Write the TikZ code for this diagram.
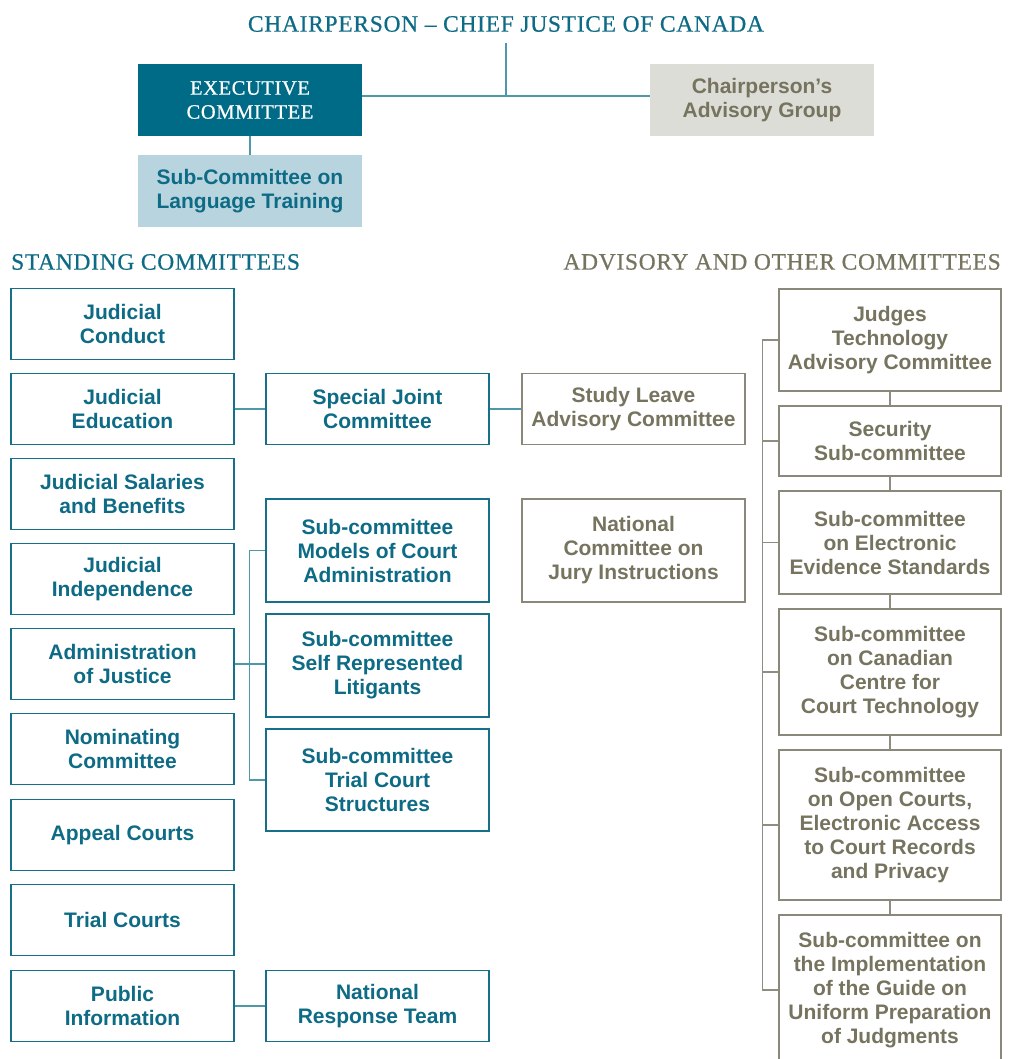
\documentclass[tikz,border=0pt]{standalone}
\usepackage{fontspec}
\newfontfamily\sansface{Liberation Sans}
\newfontfamily\capsface[LetterSpace=3,FakeBold=0.6]{Liberation Serif}

\definecolor{tealdark}{HTML}{006B86}
\definecolor{tealtext}{HTML}{0E6B85}
\definecolor{tealline}{HTML}{16708A}
\definecolor{teallink}{HTML}{4F98AA}
\definecolor{lightblue}{HTML}{B8D5DF}
\definecolor{grayfill}{HTML}{DDDDD7}
\definecolor{graytext}{HTML}{76745F}
\definecolor{grayline}{HTML}{8A887A}
\definecolor{graylink}{HTML}{8F8D80}

\newcommand\boxtext{\sansface\bfseries\fontsize{21}{24}\selectfont}
\newcommand\headcaps{\capsface\fontsize{23.5}{26}\selectfont}
\newcommand\sectcaps{\capsface\fontsize{23.5}{26}\selectfont}
\newcommand\execcaps{\capsface\fontsize{20.5}{24}\selectfont}

\begin{document}
\begin{tikzpicture}[x=1pt,y=-1pt,
  box/.style={align=center, inner sep=0pt, minimum width=223pt, font=\boxtext},
  tbox/.style={box, draw=tealline, line width=1.3pt, fill=white, text=tealtext},
  gbox/.style={box, draw=grayline, line width=1.3pt, fill=white, text=graytext},
  tlink/.style={draw=teallink, line width=1.6pt},
  glink/.style={draw=graylink, line width=1.6pt},
  title/.style={inner sep=0pt}]
\useasboundingbox (0,0) rectangle (1010,1059);

% ---- top level ----
\node[title, font=\headcaps, text=tealtext] (chair) at (506,24)
  {CHAIRPERSON – CHIEF JUSTICE OF CANADA};
\node[box, fill=tealdark, text=white, font=\execcaps, minimum width=224pt,
  minimum height=72pt] (exec) at (250,100) {EXECUTIVE\\COMMITTEE};
\node[box, fill=grayfill, text=graytext, minimum width=224pt,
  minimum height=72pt] (cag) at (762,100) {Chairperson’s\\Advisory Group};
\node[box, fill=lightblue, text=tealtext, minimum width=224pt,
  minimum height=72pt] (lang) at (250,191) {Sub-Committee on\\Language Training};

\coordinate (chairfoot) at (506,43);
\coordinate (tee) at (506,96);
\draw[tlink] (chairfoot) -- (tee);
\draw[tlink] (exec.east |- tee) -- (cag.west |- tee);
\draw[tlink] (exec.south) -- (lang.north);

% ---- section titles ----
\node[title, font=\sectcaps, text=tealtext, anchor=west] (stand) at (11,262)
  {STANDING COMMITTEES};
\node[title, font=\sectcaps, text=graytext, anchor=east] (other) at (1001,262)
  {ADVISORY AND OTHER COMMITTEES};

% ---- standing committees ----
\node[tbox, minimum height=71pt] (jcond)  at (122.5,324) {Judicial\\Conduct};
\node[tbox, minimum height=71pt] (jedu)   at (122.5,409) {Judicial\\Education};
\node[tbox, minimum height=71pt] (jsal)   at (122.5,494) {Judicial Salaries\\and Benefits};
\node[tbox, minimum height=71pt] (jind)   at (122.5,579) {Judicial\\Independence};
\node[tbox, minimum height=71pt] (admin)  at (122.5,664) {Administration\\of Justice};
\node[tbox, minimum height=71pt] (nomin)  at (122.5,749) {Nominating\\Committee};
\node[tbox, minimum height=71pt] (appeal) at (122.5,835) {Appeal Courts};
\node[tbox, minimum height=71pt] (trialc) at (122.5,920) {Trial Courts};
\node[tbox, minimum height=71pt] (pinfo)  at (122.5,1006) {Public\\Information};

\node[tbox, minimum height=71pt] (sjc)     at (377.5,409) {Special Joint\\Committee};
\node[tbox, minimum height=103pt] (models) at (377.5,550.5) {Sub-committee\\Models of Court\\Administration};
\node[tbox, minimum height=103pt] (selfrep) at (377.5,665.5) {Sub-committee\\Self Represented\\Litigants};
\node[tbox, minimum height=102pt] (trials) at (377.5,780) {Sub-committee\\Trial Court\\Structures};
\node[tbox, minimum height=71pt] (nrt)     at (377.5,1006) {National\\Response Team};

% ---- advisory committees, middle column ----
\node[gbox, minimum height=71pt] (study) at (633.5,409) {Study Leave\\Advisory Committee};
\node[gbox, minimum height=103pt] (jury) at (633.5,550.5) {National\\Committee on\\Jury Instructions};

% ---- advisory committees, right column ----
\node[gbox, minimum width=222pt, minimum height=102pt] (judges)   at (890,340) {Judges\\Technology\\Advisory Committee};
\node[gbox, minimum width=222pt, minimum height=70pt]  (security) at (890,441) {Security\\Sub-committee};
\node[gbox, minimum width=222pt, minimum height=103pt] (elec)     at (890,542.5) {Sub-committee\\on Electronic\\Evidence Standards};
\node[gbox, minimum width=222pt, minimum height=126pt] (centre)   at (890,672) {Sub-committee\\on Canadian\\Centre for\\Court Technology};
\node[gbox, minimum width=222pt, minimum height=150pt] (open)     at (890,825) {Sub-committee\\on Open Courts,\\Electronic Access\\to Court Records\\and Privacy};
\node[gbox, minimum width=222pt, minimum height=150pt] (uniform)  at (890,990) {Sub-committee on\\the Implementation\\of the Guide on\\Uniform Preparation\\of Judgments};

% ---- standing committee links ----
\draw[tlink] (jedu) -- (sjc);
\draw[tlink] (sjc) -- (study);
\draw[tlink] (pinfo) -- (nrt);
\draw[tlink] (models.west) -- ++(-16,0) |- (trials.west);
\draw[tlink] (admin.east) -- (admin.east -| selfrep.west);

% ---- advisory links ----
\draw[glink] (judges.west) -- ++(-16,0) |- (uniform.west);
\foreach \n in {security,elec,centre,open}
  \draw[glink] (\n.west) -- ++(-16,0);
\draw[glink] (judges.south) -- (security.north);
\draw[glink] (security.south) -- (elec.north);
\draw[glink] (elec.south) -- (centre.north);
\draw[glink] (centre.south) -- (open.north);
\draw[glink] (open.south) -- (uniform.north);
\end{tikzpicture}
\end{document}
